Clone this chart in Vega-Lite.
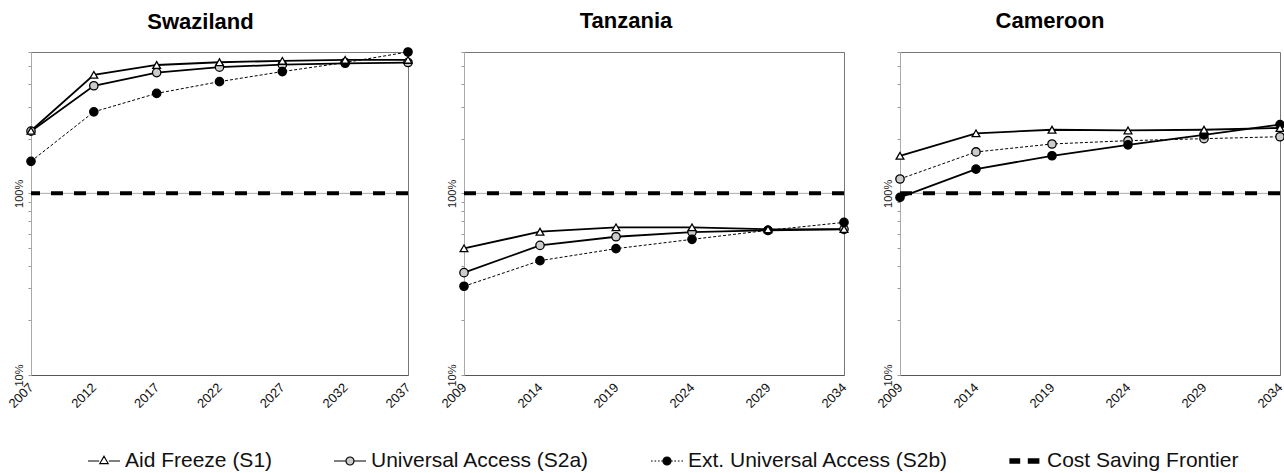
{
  "$schema": "https://vega.github.io/schema/vega-lite/v6.json",
  "background": "white",
  "padding": {"left": 5, "top": 9, "right": 4, "bottom": 0},
  "config": {
    "font": "Liberation Sans",
    "view": {"stroke": "#777777", "strokeWidth": 1},
    "concat": {"spacing": 56},
    "title": {"font": "Liberation Sans", "fontSize": 22, "fontWeight": "bold", "color": "black", "offset": 19, "anchor": "middle", "frame": "group"},
    "axisY": {"grid": false, "domainColor": "#aaaaaa", "tickColor": "#999999", "tickSize": 3, "labelPadding": 4, "labelAngle": -90, "labelFontSize": 11, "labelColor": "#222222", "title": null},
    "axisX": {"grid": false, "domainColor": "#555555", "ticks": false, "labelAngle": -45, "labelAlign": "right", "labelBaseline": "middle", "labelFontSize": 13, "labelColor": "#111111", "labelPadding": 10, "title": null, "format": "d"},
    "legend": {"orient": "none", "legendX": 56, "legendY": 392, "direction": "horizontal", "symbolSize": 1024, "symbolStrokeWidth": 1.2, "labelFontSize": 21, "labelFont": "Liberation Sans", "labelColor": "#111111", "labelLimit": 0, "columnPadding": 58, "labelOffset": 4, "padding": 0, "symbolOpacity": 1}
  },
  "bounds": "flush",
  "datasets": {
    "d": [
      {"country": "Swaziland", "series": "Universal Access (S2a)", "year": 2007, "value": 2.2},
      {"country": "Swaziland", "series": "Universal Access (S2a)", "year": 2012, "value": 3.91},
      {"country": "Swaziland", "series": "Universal Access (S2a)", "year": 2017, "value": 4.62},
      {"country": "Swaziland", "series": "Universal Access (S2a)", "year": 2022, "value": 4.95},
      {"country": "Swaziland", "series": "Universal Access (S2a)", "year": 2027, "value": 5.11},
      {"country": "Swaziland", "series": "Universal Access (S2a)", "year": 2032, "value": 5.2},
      {"country": "Swaziland", "series": "Universal Access (S2a)", "year": 2037, "value": 5.25},
      {"country": "Swaziland", "series": "Ext. Universal Access (S2b)", "year": 2007, "value": 1.5},
      {"country": "Swaziland", "series": "Ext. Universal Access (S2b)", "year": 2012, "value": 2.81},
      {"country": "Swaziland", "series": "Ext. Universal Access (S2b)", "year": 2017, "value": 3.55},
      {"country": "Swaziland", "series": "Ext. Universal Access (S2b)", "year": 2022, "value": 4.12},
      {"country": "Swaziland", "series": "Ext. Universal Access (S2b)", "year": 2027, "value": 4.68},
      {"country": "Swaziland", "series": "Ext. Universal Access (S2b)", "year": 2032, "value": 5.25},
      {"country": "Swaziland", "series": "Ext. Universal Access (S2b)", "year": 2037, "value": 6.0},
      {"country": "Swaziland", "series": "Aid Freeze (S1)", "year": 2007, "value": 2.21},
      {"country": "Swaziland", "series": "Aid Freeze (S1)", "year": 2012, "value": 4.49},
      {"country": "Swaziland", "series": "Aid Freeze (S1)", "year": 2017, "value": 5.09},
      {"country": "Swaziland", "series": "Aid Freeze (S1)", "year": 2022, "value": 5.27},
      {"country": "Swaziland", "series": "Aid Freeze (S1)", "year": 2027, "value": 5.36},
      {"country": "Swaziland", "series": "Aid Freeze (S1)", "year": 2032, "value": 5.43},
      {"country": "Swaziland", "series": "Aid Freeze (S1)", "year": 2037, "value": 5.43},
      {"country": "Swaziland", "series": "Cost Saving Frontier", "value": 1},

      {"country": "Tanzania", "series": "Universal Access (S2a)", "year": 2009, "value": 0.366},
      {"country": "Tanzania", "series": "Universal Access (S2a)", "year": 2014, "value": 0.517},
      {"country": "Tanzania", "series": "Universal Access (S2a)", "year": 2019, "value": 0.577},
      {"country": "Tanzania", "series": "Universal Access (S2a)", "year": 2024, "value": 0.612},
      {"country": "Tanzania", "series": "Universal Access (S2a)", "year": 2029, "value": 0.626},
      {"country": "Tanzania", "series": "Universal Access (S2a)", "year": 2034, "value": 0.634},
      {"country": "Tanzania", "series": "Ext. Universal Access (S2b)", "year": 2009, "value": 0.308},
      {"country": "Tanzania", "series": "Ext. Universal Access (S2b)", "year": 2014, "value": 0.426},
      {"country": "Tanzania", "series": "Ext. Universal Access (S2b)", "year": 2019, "value": 0.496},
      {"country": "Tanzania", "series": "Ext. Universal Access (S2b)", "year": 2024, "value": 0.558},
      {"country": "Tanzania", "series": "Ext. Universal Access (S2b)", "year": 2029, "value": 0.626},
      {"country": "Tanzania", "series": "Ext. Universal Access (S2b)", "year": 2034, "value": 0.692},
      {"country": "Tanzania", "series": "Aid Freeze (S1)", "year": 2009, "value": 0.498},
      {"country": "Tanzania", "series": "Aid Freeze (S1)", "year": 2014, "value": 0.615},
      {"country": "Tanzania", "series": "Aid Freeze (S1)", "year": 2019, "value": 0.65},
      {"country": "Tanzania", "series": "Aid Freeze (S1)", "year": 2024, "value": 0.65},
      {"country": "Tanzania", "series": "Aid Freeze (S1)", "year": 2029, "value": 0.634},
      {"country": "Tanzania", "series": "Aid Freeze (S1)", "year": 2034, "value": 0.636},
      {"country": "Tanzania", "series": "Cost Saving Frontier", "value": 1},

      {"country": "Cameroon", "series": "Universal Access (S2a)", "year": 2009, "value": 1.2},
      {"country": "Cameroon", "series": "Universal Access (S2a)", "year": 2014, "value": 1.69},
      {"country": "Cameroon", "series": "Universal Access (S2a)", "year": 2019, "value": 1.87},
      {"country": "Cameroon", "series": "Universal Access (S2a)", "year": 2024, "value": 1.95},
      {"country": "Cameroon", "series": "Universal Access (S2a)", "year": 2029, "value": 2.0},
      {"country": "Cameroon", "series": "Universal Access (S2a)", "year": 2034, "value": 2.05},
      {"country": "Cameroon", "series": "Ext. Universal Access (S2b)", "year": 2009, "value": 0.95},
      {"country": "Cameroon", "series": "Ext. Universal Access (S2b)", "year": 2014, "value": 1.36},
      {"country": "Cameroon", "series": "Ext. Universal Access (S2b)", "year": 2019, "value": 1.61},
      {"country": "Cameroon", "series": "Ext. Universal Access (S2b)", "year": 2024, "value": 1.85},
      {"country": "Cameroon", "series": "Ext. Universal Access (S2b)", "year": 2029, "value": 2.1},
      {"country": "Cameroon", "series": "Ext. Universal Access (S2b)", "year": 2034, "value": 2.39},
      {"country": "Cameroon", "series": "Aid Freeze (S1)", "year": 2009, "value": 1.61},
      {"country": "Cameroon", "series": "Aid Freeze (S1)", "year": 2014, "value": 2.14},
      {"country": "Cameroon", "series": "Aid Freeze (S1)", "year": 2019, "value": 2.24},
      {"country": "Cameroon", "series": "Aid Freeze (S1)", "year": 2024, "value": 2.22},
      {"country": "Cameroon", "series": "Aid Freeze (S1)", "year": 2029, "value": 2.24},
      {"country": "Cameroon", "series": "Aid Freeze (S1)", "year": 2034, "value": 2.29},
      {"country": "Cameroon", "series": "Cost Saving Frontier", "value": 1}
    ]
  },
  "data": {"name": "d"},
  "hconcat": [
    {
      "title": {"text": "Swaziland", "dx": -19, "offset": 11},
      "width": 377, "height": 323,
      "transform": [{"filter": "datum.country === 'Swaziland'"}],
      "layer": [
        {"transform": [{"filter": "datum.series === 'Cost Saving Frontier'"}], "mark": {"type": "rule", "color": "#aaaaaa", "strokeWidth": 1},
         "encoding": {"y": {"field": "value", "type": "quantitative", "scale": {"type": "log", "domain": [0.1, 6], "nice": false}, "axis": {"values": [0.1,0.2,0.3,0.4,0.5,0.6,0.7,0.8,0.9,1,2,3,4,5,6], "labelExpr": "datum.value === 0.1 ? '10%' : datum.value === 1 ? '100%' : ''"}}}},
        {"transform": [{"filter": "datum.series === 'Cost Saving Frontier'"}], "mark": {"type": "rule", "color": "black", "strokeWidth": 4, "strokeDash": [12, 11]},
         "encoding": {"y": {"field": "value", "type": "quantitative"}}},
        {"transform": [{"filter": "datum.series === 'Aid Freeze (S1)' || datum.series === 'Universal Access (S2a)'"}], "mark": {"type": "line", "color": "black", "strokeWidth": 1.8},
         "encoding": {"x": {"field": "year", "type": "quantitative", "scale": {"domain": [2007, 2037], "nice": false, "zero": false}, "axis": {"values": [2007, 2012, 2017, 2022, 2027, 2032, 2037]}}, "y": {"field": "value", "type": "quantitative"}, "detail": {"field": "series"}}},
        {"transform": [{"filter": "datum.series === 'Ext. Universal Access (S2b)'"}], "mark": {"type": "line", "color": "black", "strokeWidth": 1, "strokeDash": [3, 2]},
         "encoding": {"x": {"field": "year", "type": "quantitative"}, "y": {"field": "value", "type": "quantitative"}, "detail": {"field": "series"}}},
        {"transform": [{"filter": "datum.series === 'Universal Access (S2a)'"}], "mark": {"type": "point", "shape": "circle", "filled": true, "fill": "#cccccc", "stroke": "black", "strokeWidth": 1.3, "size": 70, "opacity": 1},
         "encoding": {"x": {"field": "year", "type": "quantitative"}, "y": {"field": "value", "type": "quantitative"}}},
        {"transform": [{"filter": "datum.series === 'Ext. Universal Access (S2b)'"}], "mark": {"type": "point", "shape": "circle", "filled": true, "fill": "black", "stroke": "black", "strokeWidth": 1.3, "size": 70, "opacity": 1},
         "encoding": {"x": {"field": "year", "type": "quantitative"}, "y": {"field": "value", "type": "quantitative"}}},
        {"transform": [{"filter": "datum.series === 'Aid Freeze (S1)'"}], "mark": {"type": "point", "shape": "triangle-up", "filled": true, "fill": "white", "stroke": "black", "strokeWidth": 1.3, "size": 60, "opacity": 1},
         "encoding": {"x": {"field": "year", "type": "quantitative"}, "y": {"field": "value", "type": "quantitative"}}},
        {"transform": [{"filter": "false"}], "mark": {"type": "point", "filled": true, "strokeWidth": 1.2, "opacity": 1},
         "encoding": {
           "shape": {"field": "series", "type": "nominal",
             "scale": {"domain": ["Aid Freeze (S1)", "Universal Access (S2a)", "Ext. Universal Access (S2b)", "Cost Saving Frontier"],
               "range": [
                 "M-1,0L-0.3,0M0.3,0L1,0M0,-0.3L0.26,0.16L-0.26,0.16Z",
                 "M-1,0L-0.28,0M0.28,0L1,0M0.25,0A0.25,0.25,0,1,1,-0.25,0A0.25,0.25,0,1,1,0.25,0Z",
                 "M-1,0L-0.9,0M-0.78,0L-0.68,0M-0.56,0L-0.46,0M-0.36,0L-0.28,0M0.28,0L0.36,0M0.46,0L0.56,0M0.68,0L0.78,0M0.9,0L1,0M0.25,0A0.25,0.25,0,1,1,-0.25,0A0.25,0.25,0,1,1,0.25,0Z",
                 "M-1,-0.13L-0.4,-0.13L-0.4,0.13L-1,0.13ZM0.15,-0.13L0.8,-0.13L0.8,0.13L0.15,0.13Z"
               ]},
             "legend": {"title": null}},
           "fill": {"field": "series", "type": "nominal",
             "scale": {"domain": ["Aid Freeze (S1)", "Universal Access (S2a)", "Ext. Universal Access (S2b)", "Cost Saving Frontier"], "range": ["white", "#cccccc", "black", "black"]},
             "legend": {"title": null}},
           "stroke": {"field": "series", "type": "nominal",
             "scale": {"domain": ["Aid Freeze (S1)", "Universal Access (S2a)", "Ext. Universal Access (S2b)", "Cost Saving Frontier"], "range": ["black", "black", "black", "black"]},
             "legend": {"title": null}}}}
      ]
    },
    {
      "title": {"text": "Tanzania", "dx": -28},
      "width": 380, "height": 323,
      "transform": [{"filter": "datum.country === 'Tanzania'"}],
      "layer": [
        {"transform": [{"filter": "datum.series === 'Cost Saving Frontier'"}], "mark": {"type": "rule", "color": "#aaaaaa", "strokeWidth": 1},
         "encoding": {"y": {"field": "value", "type": "quantitative", "scale": {"type": "log", "domain": [0.1, 6], "nice": false}, "axis": {"values": [0.1,0.2,0.3,0.4,0.5,0.6,0.7,0.8,0.9,1,2,3,4,5,6], "labelExpr": "datum.value === 0.1 ? '10%' : datum.value === 1 ? '100%' : ''"}}}},
        {"transform": [{"filter": "datum.series === 'Cost Saving Frontier'"}], "mark": {"type": "rule", "color": "black", "strokeWidth": 4, "strokeDash": [12, 11]},
         "encoding": {"y": {"field": "value", "type": "quantitative"}}},
        {"transform": [{"filter": "datum.series === 'Aid Freeze (S1)' || datum.series === 'Universal Access (S2a)'"}], "mark": {"type": "line", "color": "black", "strokeWidth": 1.8},
         "encoding": {"x": {"field": "year", "type": "quantitative", "scale": {"domain": [2009, 2034], "nice": false, "zero": false}, "axis": {"values": [2009, 2014, 2019, 2024, 2029, 2034]}}, "y": {"field": "value", "type": "quantitative"}, "detail": {"field": "series"}}},
        {"transform": [{"filter": "datum.series === 'Ext. Universal Access (S2b)'"}], "mark": {"type": "line", "color": "black", "strokeWidth": 1, "strokeDash": [3, 2]},
         "encoding": {"x": {"field": "year", "type": "quantitative"}, "y": {"field": "value", "type": "quantitative"}, "detail": {"field": "series"}}},
        {"transform": [{"filter": "datum.series === 'Universal Access (S2a)'"}], "mark": {"type": "point", "shape": "circle", "filled": true, "fill": "#cccccc", "stroke": "black", "strokeWidth": 1.3, "size": 70, "opacity": 1},
         "encoding": {"x": {"field": "year", "type": "quantitative"}, "y": {"field": "value", "type": "quantitative"}}},
        {"transform": [{"filter": "datum.series === 'Ext. Universal Access (S2b)'"}], "mark": {"type": "point", "shape": "circle", "filled": true, "fill": "black", "stroke": "black", "strokeWidth": 1.3, "size": 70, "opacity": 1},
         "encoding": {"x": {"field": "year", "type": "quantitative"}, "y": {"field": "value", "type": "quantitative"}}},
        {"transform": [{"filter": "datum.series === 'Aid Freeze (S1)'"}], "mark": {"type": "point", "shape": "triangle-up", "filled": true, "fill": "white", "stroke": "black", "strokeWidth": 1.3, "size": 60, "opacity": 1},
         "encoding": {"x": {"field": "year", "type": "quantitative"}, "y": {"field": "value", "type": "quantitative"}}}
      ]
    },
    {
      "title": {"text": "Cameroon", "dx": -40},
      "width": 380, "height": 323,
      "transform": [{"filter": "datum.country === 'Cameroon'"}],
      "layer": [
        {"transform": [{"filter": "datum.series === 'Cost Saving Frontier'"}], "mark": {"type": "rule", "color": "#aaaaaa", "strokeWidth": 1},
         "encoding": {"y": {"field": "value", "type": "quantitative", "scale": {"type": "log", "domain": [0.1, 6], "nice": false}, "axis": {"values": [0.1,0.2,0.3,0.4,0.5,0.6,0.7,0.8,0.9,1,2,3,4,5,6], "labelExpr": "datum.value === 0.1 ? '10%' : datum.value === 1 ? '100%' : ''"}}}},
        {"transform": [{"filter": "datum.series === 'Cost Saving Frontier'"}], "mark": {"type": "rule", "color": "black", "strokeWidth": 4, "strokeDash": [12, 11]},
         "encoding": {"y": {"field": "value", "type": "quantitative"}}},
        {"transform": [{"filter": "datum.series === 'Aid Freeze (S1)' || datum.series === 'Ext. Universal Access (S2b)'"}], "mark": {"type": "line", "color": "black", "strokeWidth": 1.8},
         "encoding": {"x": {"field": "year", "type": "quantitative", "scale": {"domain": [2009, 2034], "nice": false, "zero": false}, "axis": {"values": [2009, 2014, 2019, 2024, 2029, 2034]}}, "y": {"field": "value", "type": "quantitative"}, "detail": {"field": "series"}}},
        {"transform": [{"filter": "datum.series === 'Universal Access (S2a)'"}], "mark": {"type": "line", "color": "black", "strokeWidth": 1, "strokeDash": [3, 2]},
         "encoding": {"x": {"field": "year", "type": "quantitative"}, "y": {"field": "value", "type": "quantitative"}, "detail": {"field": "series"}}},
        {"transform": [{"filter": "datum.series === 'Universal Access (S2a)'"}], "mark": {"type": "point", "shape": "circle", "filled": true, "fill": "#cccccc", "stroke": "black", "strokeWidth": 1.3, "size": 70, "opacity": 1},
         "encoding": {"x": {"field": "year", "type": "quantitative"}, "y": {"field": "value", "type": "quantitative"}}},
        {"transform": [{"filter": "datum.series === 'Ext. Universal Access (S2b)'"}], "mark": {"type": "point", "shape": "circle", "filled": true, "fill": "black", "stroke": "black", "strokeWidth": 1.3, "size": 70, "opacity": 1},
         "encoding": {"x": {"field": "year", "type": "quantitative"}, "y": {"field": "value", "type": "quantitative"}}},
        {"transform": [{"filter": "datum.series === 'Aid Freeze (S1)'"}], "mark": {"type": "point", "shape": "triangle-up", "filled": true, "fill": "white", "stroke": "black", "strokeWidth": 1.3, "size": 60, "opacity": 1},
         "encoding": {"x": {"field": "year", "type": "quantitative"}, "y": {"field": "value", "type": "quantitative"}}}
      ]
    }
  ],
  "resolve": {"scale": {"x": "independent", "y": "independent"}}
}
